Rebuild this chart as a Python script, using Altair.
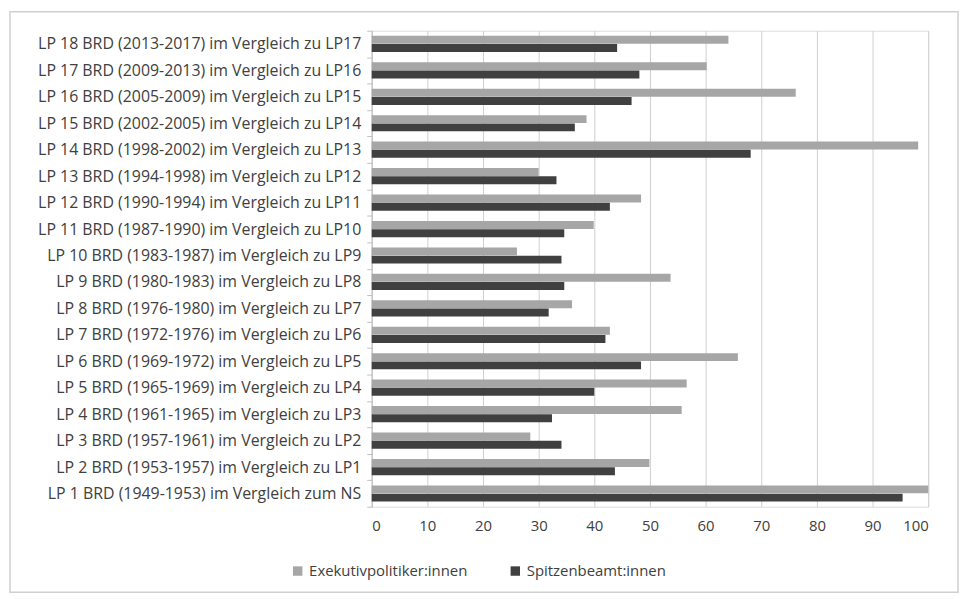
import altair as alt
import pandas as pd

categories = [
    "LP 18 BRD (2013-2017) im Vergleich zu LP17",
    "LP 17 BRD (2009-2013) im Vergleich zu LP16",
    "LP 16 BRD (2005-2009) im Vergleich zu LP15",
    "LP 15 BRD (2002-2005) im Vergleich zu LP14",
    "LP 14 BRD (1998-2002) im Vergleich zu LP13",
    "LP 13 BRD (1994-1998) im Vergleich zu LP12",
    "LP 12 BRD (1990-1994) im Vergleich zu LP11",
    "LP 11 BRD (1987-1990) im Vergleich zu LP10",
    "LP 10 BRD (1983-1987) im Vergleich zu LP9",
    "LP 9 BRD (1980-1983) im Vergleich zu LP8",
    "LP 8 BRD (1976-1980) im Vergleich zu LP7",
    "LP 7 BRD (1972-1976) im Vergleich zu LP6",
    "LP 6 BRD (1969-1972) im Vergleich zu LP5",
    "LP 5 BRD (1965-1969) im Vergleich zu LP4",
    "LP 4 BRD (1961-1965) im Vergleich zu LP3",
    "LP 3 BRD (1957-1961) im Vergleich zu LP2",
    "LP 2 BRD (1953-1957) im Vergleich zu LP1",
    "LP 1 BRD (1949-1953) im Vergleich zum NS",
]
exekutiv = [64.1, 60.2, 76.2, 38.6, 98.2, 30.0, 48.4, 39.9, 26.1, 53.7,
            36.0, 42.8, 65.8, 56.6, 55.7, 28.5, 49.9, 100.0]
spitzen = [44.1, 48.1, 46.7, 36.5, 68.1, 33.2, 42.8, 34.6, 34.1, 34.6,
           31.8, 42.0, 48.4, 40.0, 32.4, 34.1, 43.7, 95.4]
series = ["Exekutivpolitiker:innen", "Spitzenbeamt:innen"]
colors = ["#a6a6a6", "#404040"]

rows = []
for c, e, s in zip(categories, exekutiv, spitzen):
    rows.append({"cat": c, "serie": series[0], "v": e})
    rows.append({"cat": c, "serie": series[1], "v": s})
df = pd.DataFrame(rows)

FONT = "Open Sans"

bars = alt.Chart(df).mark_bar(size=8).encode(
    x=alt.X("v:Q", scale=alt.Scale(domain=[0, 100], nice=False),
            axis=alt.Axis(values=list(range(0, 101, 10)), title=None, grid=True,
                          gridColor="#d0d0d0", domain=False, ticks=False,
                          labelFontSize=15, labelColor="#404040", labelFont=FONT,
                          labelPadding=12)),
    y=alt.Y("cat:N", sort=categories,
            scale=alt.Scale(paddingInner=0.0, paddingOuter=0.0),
            axis=alt.Axis(title=None, labelFontSize=16, labelColor="#404040",
                          labelFont=FONT, labelLimit=500,
                          domainColor="#bfbfbf", tickColor="#bfbfbf",
                          tickBand="extent", tickSize=5, labelPadding=6, grid=False)),
    yOffset=alt.YOffset("serie:N", sort=series,
                        scale=alt.Scale(paddingInner=0.0, paddingOuter=0.6)),
    color=alt.Color("serie:N", sort=series,
                    scale=alt.Scale(domain=series, range=colors),
                    legend=alt.Legend(title=None, orient="none", direction="horizontal",
                                      legendX=-82, legendY=536, symbolType="square",
                                      symbolSize=90, labelFontSize=15, labelFont=FONT,
                                      labelColor="#404040", columnPadding=40,
                                      symbolStrokeWidth=0)),
)

# decorative outer chart frame (Excel-style border)
frame = alt.Chart(pd.DataFrame({"f": [0]})).mark_rect(
    fill=None, stroke="#d0d0d0", strokeWidth=1.5
).encode(
    x=alt.value(-364), x2=alt.value(590), y=alt.value(-19), y2=alt.value(565)
)

chart = alt.layer(bars, frame).properties(width=560, height=479)

chart = chart.configure_view(stroke=None).configure(
    background="white", padding={"left": 1, "top": 1, "right": 1, "bottom": 1})

chart.save("out.html", embed_options={"renderer": "svg", "actions": False})
